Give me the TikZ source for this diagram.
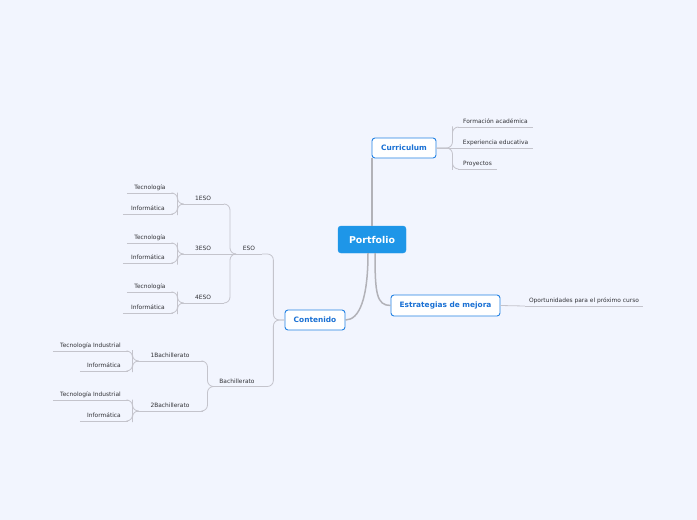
\documentclass[tikz,border=0pt]{standalone}
\usepackage{fontspec}
\setmainfont{DejaVu Sans}
\usetikzlibrary{calc}
\definecolor{bg}{RGB}{242,245,254}
\definecolor{rootblue}{RGB}{30,150,232}
\definecolor{mainblue}{RGB}{35,130,228}
\definecolor{txtblue}{RGB}{25,112,212}
\definecolor{linegray}{RGB}{178,178,184}
\definecolor{leafgray}{RGB}{196,196,204}
\definecolor{leaftxt}{RGB}{50,50,55}
\tikzset{
  rootbox/.style={fill=rootblue, draw=rootblue, rounded corners=3pt, text=white,
    font=\bfseries\fontsize{9.4}{10}\selectfont, minimum width=68pt, minimum height=27pt, inner sep=0pt},
  mainbox/.style={fill=white, draw=mainblue, line width=0.9pt, rounded corners=3pt, text=txtblue,
    font=\bfseries\fontsize{7.4}{8}\selectfont, minimum height=20pt, inner sep=0pt},
  leaf/.style={anchor=south, inner xsep=0pt, inner ysep=2.3pt, text height=4.3pt, text depth=1pt,
    font=\fontsize{5.9}{6.5}\selectfont, text=leaftxt},
  rootlink/.style={draw=linegray, line width=1.5pt},
  link/.style={draw=leafgray, line width=0.8pt, rounded corners=6pt},
  uline/.style={draw=leafgray, line width=0.8pt}
}
\newcommand\mmlink[3][0.5]{\draw[link] (#2) -| ($(#2)!#1!(#3)$) |- (#3);}
\begin{document}
\begin{tikzpicture}[x=1pt,y=-1pt]
\fill[bg] (0,0) rectangle (697,520);
\useasboundingbox (0,0) rectangle (697,520);

% main nodes
\node[rootbox] (root) at (372,239.5) {Portfolio};
\node[mainbox, minimum width=64pt] (cur) at (404,148) {Curriculum};
\node[mainbox, minimum width=60pt] (con) at (315,320) {Contenido};
\node[mainbox, minimum width=109pt, minimum height=21pt] (est) at (445.5,305.5) {Estrategias de mejora};

% curriculum leaves
\node[leaf, minimum width=75pt] (fa) at (495.5,127) {Formación académica};
\node[leaf, minimum width=75pt] (ee) at (495.5,148) {Experiencia educativa};
\node[leaf, minimum width=39pt] (pr) at (477.5,169) {Proyectos};

% estrategias leaf
\node[leaf, minimum width=118pt] (op) at (584,306) {Oportunidades para el próximo curso};

% contenido
\node[leaf, minimum width=26pt] (eso) at (249,254) {ESO};
\node[leaf, minimum width=50pt] (bach) at (237,386.5) {Bachillerato};

\node[leaf, minimum width=42pt] (e1) at (203,204) {1ESO};
\node[leaf, minimum width=42pt] (e3) at (203,254) {3ESO};
\node[leaf, minimum width=42pt] (e4) at (203,303) {4ESO};

\node[leaf, minimum width=46pt] (t1) at (150,193) {Tecnología};
\node[leaf, minimum width=50pt] (i1) at (148,214) {Informática};
\node[leaf, minimum width=46pt] (t3) at (150,243) {Tecnología};
\node[leaf, minimum width=50pt] (i3) at (148,263) {Informática};
\node[leaf, minimum width=46pt] (t4) at (150,292) {Tecnología};
\node[leaf, minimum width=50pt] (i4) at (148,313) {Informática};

\node[leaf, minimum width=66pt] (b1) at (170,361) {1Bachillerato};
\node[leaf, minimum width=66pt] (b2) at (170,411) {2Bachillerato};

\node[leaf, minimum width=75pt] (ti1) at (90.5,351) {Tecnología Industrial};
\node[leaf, minimum width=48pt] (bi1) at (104,371) {Informática};
\node[leaf, minimum width=75pt] (ti2) at (90.5,400) {Tecnología Industrial};
\node[leaf, minimum width=48pt] (bi2) at (104,421) {Informática};

% underlines
\foreach \n in {fa,ee,pr,op,eso,bach,e1,e3,e4,t1,i1,t3,i3,t4,i4,b1,b2,ti1,bi1,ti2,bi2}
  \draw[uline] (\n.south west) -- (\n.south east);

% root links
\draw[rootlink] (root.north) -- (root.north |- cur.south);
\draw[rootlink] ($(root.south)+(-4,0)$) .. controls +(0,45) and +(14,0) .. (con.east);
\draw[rootlink] ($(root.south)+(3,0)$) .. controls +(0,40) and +(-14,0) .. (est.west);

% curriculum links
\mmlink[0.75]{cur.east}{fa.south west}
\draw[link] (cur.east) -- (ee.south west);
\mmlink[0.75]{cur.east}{pr.south west}

% estrategias
\draw[link] (est.east) -- (op.south west);

% contenido
\mmlink[0.5]{con.west}{eso.south east}
\mmlink[0.5]{con.west}{bach.south east}

\mmlink[0.5]{eso.south west}{e1.south east}
\draw[link] (eso.south west) -- (e3.south east);
\mmlink[0.5]{eso.south west}{e4.south east}

\mmlink[0.5]{e1.south west}{t1.south east}
\mmlink[0.5]{e1.south west}{i1.south east}
\mmlink[0.5]{e3.south west}{t3.south east}
\mmlink[0.5]{e3.south west}{i3.south east}
\mmlink[0.5]{e4.south west}{t4.south east}
\mmlink[0.5]{e4.south west}{i4.south east}

\mmlink[0.5]{bach.south west}{b1.south east}
\mmlink[0.5]{bach.south west}{b2.south east}

\mmlink[0.5]{b1.south west}{ti1.south east}
\mmlink[0.5]{b1.south west}{bi1.south east}
\mmlink[0.5]{b2.south west}{ti2.south east}
\mmlink[0.5]{b2.south west}{bi2.south east}
\end{tikzpicture}
\end{document}
